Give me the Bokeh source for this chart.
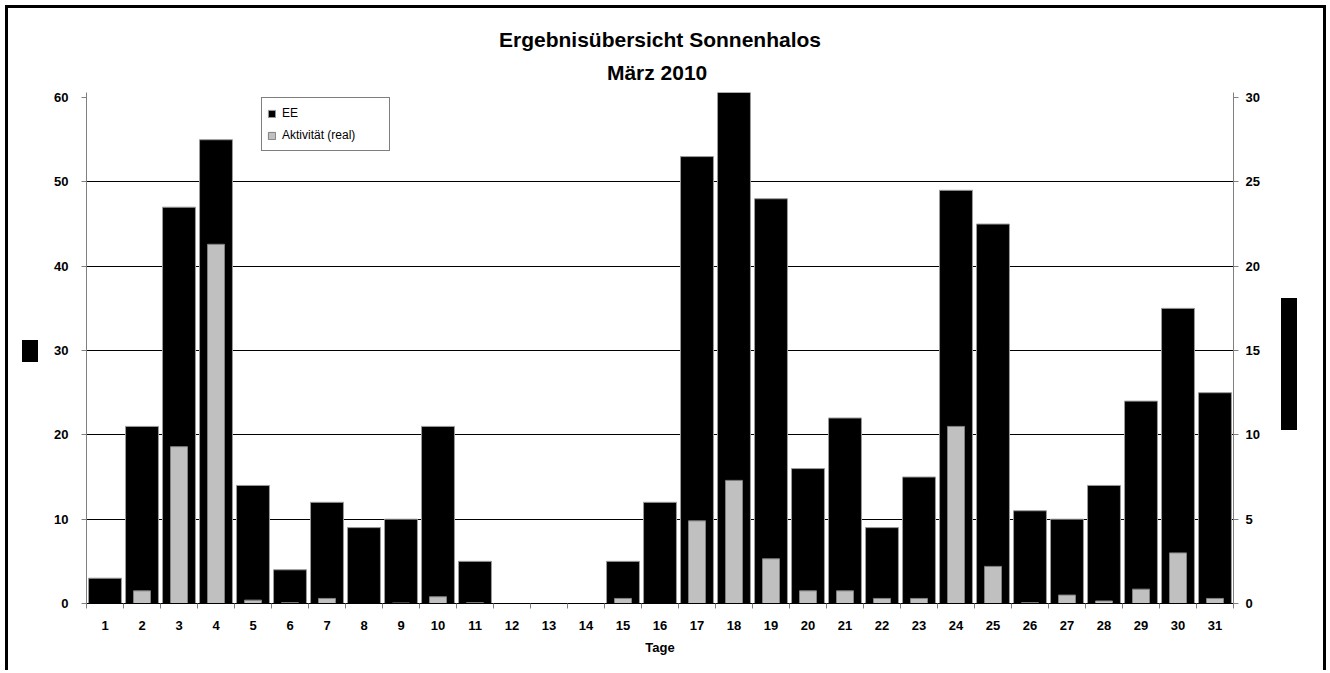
from bokeh.plotting import figure
from bokeh.models import (Range1d, LinearAxis, FixedTicker, Title, Legend, LegendItem,
                          ColumnDataSource, Div, Spacer)
from bokeh.layouts import row, column
from bokeh.embed import file_html
from bokeh.resources import INLINE

# ---------------- data ----------------
days = [1, 2, 3, 4, 5, 6, 7, 8, 9, 10, 11, 12, 13, 14, 15, 16,
        17, 18, 19, 20, 21, 22, 23, 24, 25, 26, 27, 28, 29, 30, 31]
ee = [3, 21, 47, 55, 14, 4, 12, 9, 10, 21, 5, 0, 0, 0, 5, 12,
      53, 61, 48, 16, 22, 9, 15, 49, 45, 11, 10, 14, 24, 35, 25]
aktivitaet = [0, 0.75, 9.3, 21.3, 0.2, 0.05, 0.3, 0, 0.03, 0.4, 0.05, 0, 0, 0, 0.3, 0,
              4.9, 7.3, 2.65, 0.75, 0.75, 0.3, 0.3, 10.5, 2.2, 0.05, 0.5, 0.15, 0.85, 3.0, 0.3]
left_ticks = [0, 10, 20, 30, 40, 50, 60]
right_ticks = [0, 5, 10, 15, 20, 25, 30]
grid_ticks = [10, 20, 30, 40, 50]
title_line1 = "Ergebnisübersicht Sonnenhalos"
title_line2 = "März  2010"
x_title = "Tage"
series_names = ["EE", "Aktivität (real)"]

FONT = "Liberation Sans"
FIG_W, FIG_H = 1235, 662

src = ColumnDataSource(data=dict(day=days, ee=ee, akt=aktivitaet))

p = figure(width=FIG_W, height=FIG_H, output_backend="svg", toolbar_location=None,
           x_range=Range1d(0.5, 31.5), y_range=Range1d(0, 60.6),
           min_border_left=46, min_border_right=42, min_border_top=84,
           min_border_bottom=67, title=None, margin=0)
p.extra_y_ranges = {"right": Range1d(0, 30.3)}
p.outline_line_color = None
p.background_fill_color = "white"
p.border_fill_color = "white"

r1 = p.vbar(x="day", top="ee", width=0.89, source=src,
            fill_color="black", line_color="#9a9a9a", line_width=1)
r2 = p.vbar(x="day", top="akt", width=0.46, source=src, y_range_name="right",
            fill_color="#c0c0c0", line_color="#808080", line_width=1)

# grid
p.xgrid.visible = False
p.ygrid.ticker = FixedTicker(ticks=grid_ticks)
p.ygrid.grid_line_color = "black"
p.ygrid.grid_line_width = 1

# bottom axis
xa = p.xaxis[0]
xa.ticker = FixedTicker(ticks=days, minor_ticks=[d - 0.5 for d in days] + [days[-1] + 0.5])
xa.major_tick_line_color = None
xa.minor_tick_line_color = "#808080"
xa.minor_tick_out = 5
xa.minor_tick_in = 0
xa.axis_line_color = "black"
xa.major_label_standoff = 11
xa.major_label_text_font = FONT
xa.major_label_text_font_style = "bold"
xa.major_label_text_font_size = "13px"
xa.major_label_text_color = "black"
xa.axis_label = x_title
xa.axis_label_text_font = FONT
xa.axis_label_text_font_style = "bold"
xa.axis_label_text_font_size = "13px"
xa.axis_label_text_color = "black"
xa.axis_label_standoff = 7

# left axis
ya = p.yaxis[0]
ya.ticker = FixedTicker(ticks=left_ticks)
ya.minor_tick_line_color = None
ya.major_tick_out = 5
ya.major_tick_in = 0
ya.major_tick_line_color = "#808080"
ya.axis_line_color = "#808080"
ya.major_label_standoff = 13
ya.major_label_text_font = FONT
ya.major_label_text_font_style = "bold"
ya.major_label_text_font_size = "13px"
ya.major_label_text_color = "black"

# right axis
ra = LinearAxis(y_range_name="right", ticker=FixedTicker(ticks=right_ticks))
ra.minor_tick_line_color = None
ra.major_tick_out = 5
ra.major_tick_in = 0
ra.major_tick_line_color = "#808080"
ra.axis_line_color = "#808080"
ra.major_label_standoff = 7
ra.major_label_text_font = FONT
ra.major_label_text_font_style = "bold"
ra.major_label_text_font_size = "13px"
ra.major_label_text_color = "black"
p.add_layout(ra, "right")

# two-line title (first added is closest to the plot area)
p.add_layout(Title(text=title_line2, align="center", offset=13, standoff=17,
                   text_font=FONT, text_font_style="bold", text_font_size="21px",
                   text_color="black"), "above")
p.add_layout(Title(text=title_line1, align="center", offset=10, standoff=0,
                   text_font=FONT, text_font_style="bold", text_font_size="21px",
                   text_color="black"), "above")

legend = Legend(items=[LegendItem(label=series_names[0], renderers=[r1]),
                       LegendItem(label=series_names[1], renderers=[r2])],
                location=(175, 452), orientation="vertical")
legend.border_line_color = "black"
legend.border_line_width = 1
legend.background_fill_color = "white"
legend.background_fill_alpha = 1
legend.padding = 5
legend.spacing = 2
legend.margin = 0
legend.glyph_width = 9
legend.glyph_height = 9
legend.label_standoff = 6
legend.label_width = 102
legend.label_height = 20
legend.label_text_font = FONT
legend.label_text_font_size = "12px"
legend.label_text_color = "black"
p.add_layout(legend)


def block(w, h):
    return Div(width=w, height=h, margin=0, styles={"background-color": "black"},
               text="")


def gap(w, h):
    return Spacer(width=w, height=h, margin=0)


left_box = column(gap(16, 332), block(16, 22), margin=0, spacing=0)
right_box = column(gap(16, 290), block(16, 132), margin=0, spacing=0)

body = row(gap(5, FIG_H), block(3, FIG_H), gap(14, FIG_H),
           left_box, gap(2, FIG_H), p, gap(6, FIG_H),
           right_box, gap(26, FIG_H), block(3, FIG_H), margin=0, spacing=0)
top = row(gap(5, 3), block(1321, 3), margin=0, spacing=0)
layout = column(gap(1326, 5), top, body, margin=0, spacing=0)

open("out.html", "w").write(file_html(layout, INLINE))
